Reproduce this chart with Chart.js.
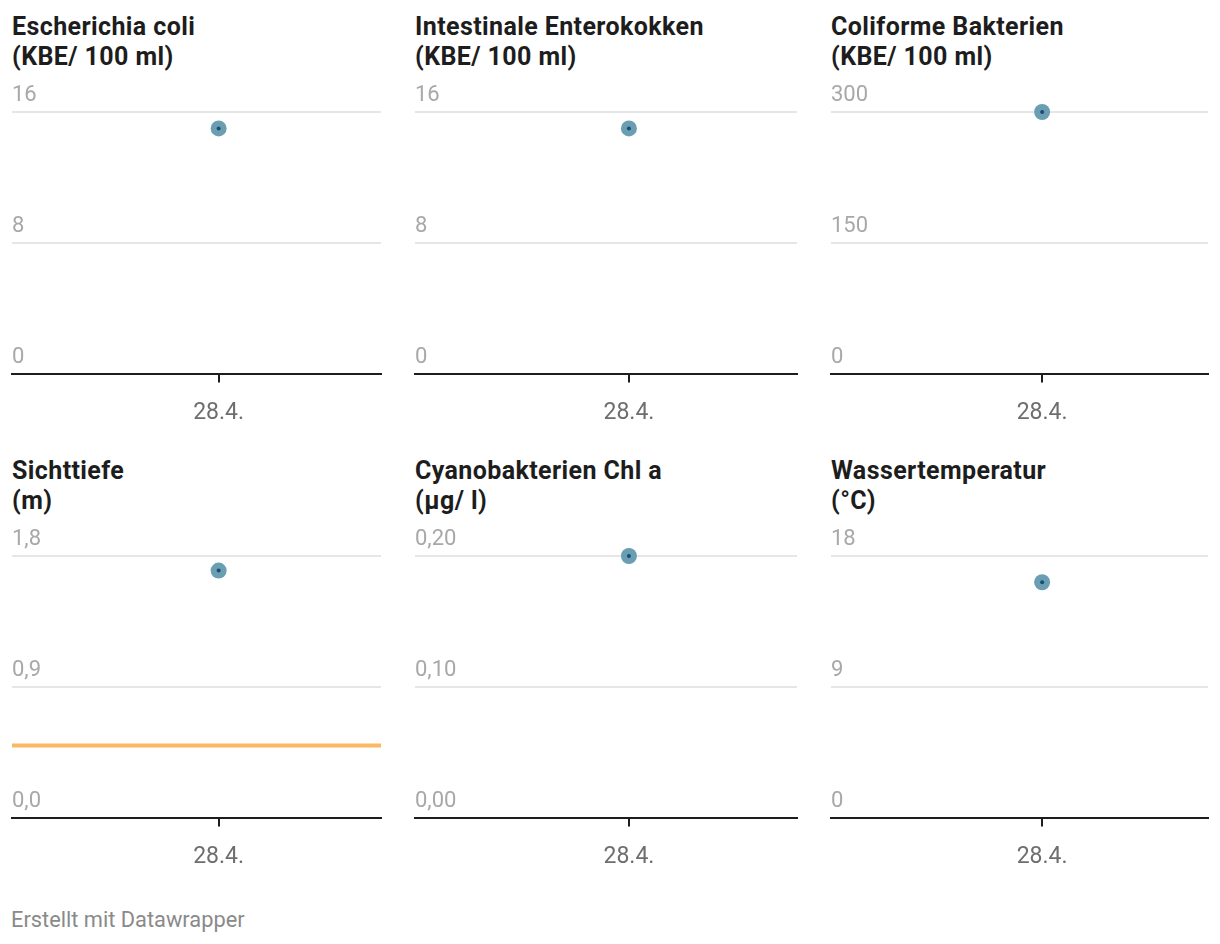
<!DOCTYPE html>
<html>
<head>
<meta charset="utf-8">
<script src="https://cdn.jsdelivr.net/npm/chart.js@4"></script>
<style>
  body { margin: 0; background: #fff; font-family: Roboto, sans-serif; }
  .panel { position: absolute; }
  .panel h3 { margin: 0; font-size: 25px; line-height: 30px; font-weight: 700; color: #1d1d1d; letter-spacing: 0.4px; }
  .panel .box { position: absolute; left: -8px; right: -8px; top: 68px; height: 364px; }
  #foot { position: absolute; left: 11px; top: 907px; font-size: 21.8px; color: #8a8a8a; }
</style>
</head>
<body>
<div id="wrap"></div>
<div id="foot">Erstellt mit Datawrapper</div>
<script>
// messwerte, ein Datum
var dates = ['28.4.'];
var titles = ['Escherichia coli', 'Intestinale Enterokokken', 'Coliforme Bakterien', 'Sichttiefe', 'Cyanobakterien Chl a', 'Wassertemperatur'];
var units = ['(KBE/ 100 ml)', '(KBE/ 100 ml)', '(KBE/ 100 ml)', '(m)', '(µg/ l)', '(°C)'];
var values = [15, 15, 300, 1.7, 0.2, 16.2];
var tickValues = [[0, 8, 16], [0, 8, 16], [0, 150, 300], [0, 0.9, 1.8], [0, 0.1, 0.2], [0, 9, 18]];
var tickLabels = [['0', '8', '16'], ['0', '8', '16'], ['0', '150', '300'], ['0,0', '0,9', '1,8'], ['0,00', '0,10', '0,20'], ['0', '9', '18']];
var sichttiefeLimit = 0.5;
var xRange = [-1.12, 0.88];

var lefts = [12, 415, 831];
var widths = [369, 382, 377];
var tops = [12, 456];

var wrap = document.getElementById('wrap');

titles.forEach(function (t, i) {
    var col = i % 3, row = Math.floor(i / 3);
    var div = document.createElement('div');
    div.className = 'panel';
    div.style.left = lefts[col] + 'px';
    div.style.top = tops[row] + 'px';
    div.style.width = widths[col] + 'px';
    div.style.height = '430px';
    div.innerHTML = '<h3>' + t + '<br>' + units[i] + '</h3><div class="box"><canvas></canvas></div>';
    wrap.appendChild(div);

    var datasets = [
        { type: 'scatter', order: 0, data: [{ x: 0, y: values[i] }], pointRadius: 2, pointBackgroundColor: '#13506d', pointBorderWidth: 0, clip: false },
        { type: 'scatter', order: 1, data: [{ x: 0, y: values[i] }], pointRadius: 8, pointBackgroundColor: '#6b9eb3', pointBorderWidth: 0, clip: false }
    ];
    if (i == 3) {
        datasets.push({
            type: 'line', order: 2, data: [{ x: xRange[0], y: sichttiefeLimit }, { x: xRange[1], y: sichttiefeLimit }],
            borderColor: '#fdb863', borderWidth: 4, pointRadius: 0
        });
    }

    var ticksY = tickValues[i], labelsY = tickLabels[i];
    new Chart(div.querySelector('canvas'), {
        data: { datasets: datasets },
        options: {
            responsive: true,
            maintainAspectRatio: false,
            animation: false,
            layout: { padding: { top: 32, left: 0, right: 0 } },
            plugins: { legend: { display: false }, tooltip: { enabled: false } },
            scales: {
                x: {
                    type: 'linear',
                    min: xRange[0],
                    max: xRange[1],
                    afterBuildTicks: function (s) { s.ticks = [{ value: 0 }]; },
                    ticks: {
                        callback: function () { return dates[0]; },
                        color: '#6e6e6e',
                        font: { family: 'Roboto', size: 23 },
                        padding: 17
                    },
                    grid: { drawOnChartArea: false, drawTicks: true, tickLength: 8, color: '#1d1d1d', lineWidth: 2 },
                    border: { display: true, color: '#1d1d1d', width: 2 }
                },
                y: {
                    min: 0,
                    max: ticksY[2],
                    afterBuildTicks: function (s) { s.ticks = ticksY.map(function (v) { return { value: v }; }); },
                    ticks: {
                        mirror: true,
                        padding: 0,
                        labelOffset: -17,
                        color: '#a8a8a8',
                        font: { family: 'Roboto', size: 22 },
                        callback: function (v, idx) { return labelsY[idx]; }
                    },
                    grid: {
                        drawTicks: false,
                        lineWidth: 2,
                        color: function (c) { return c.tick && c.tick.value === 0 ? 'rgba(0,0,0,0)' : '#e6e6e6'; }
                    },
                    border: { display: false }
                }
            }
        }
    });
});
</script>
</body>
</html>
